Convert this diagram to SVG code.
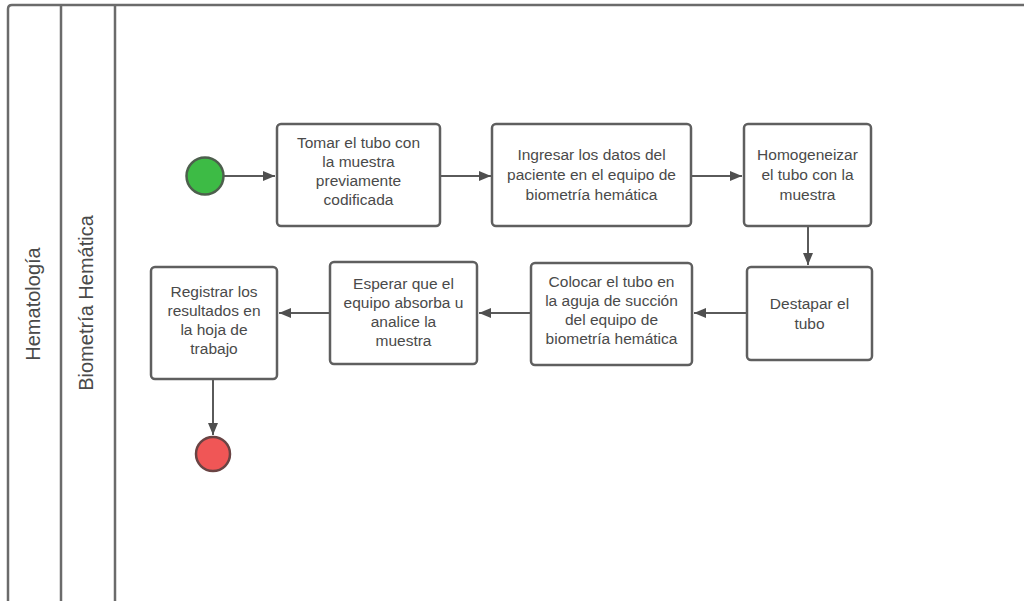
<svg xmlns="http://www.w3.org/2000/svg" width="1024" height="601" viewBox="0 0 1024 601">
  <defs>
    <style>
      .lane { fill: #ffffff; stroke: #6b6b6b; stroke-width: 2.5; }
      .box { fill: #ffffff; stroke: #5f5f5f; stroke-width: 2.5; }
      .txt { font-family: "Liberation Sans", Arial, sans-serif; font-size: 15.5px; fill: #4a4a4a; text-anchor: middle; }
      .lanetxt { font-family: "Liberation Sans", Arial, sans-serif; font-size: 20px; fill: #4a4a4a; text-anchor: middle; }
      .edge { fill: none; stroke: #5a5a5a; stroke-width: 2; }
    </style>
    <marker id="arrow" viewBox="0 0 12 10" refX="12" refY="5" markerWidth="12" markerHeight="10" markerUnits="userSpaceOnUse" orient="auto">
      <path d="M0,0 L12,5 L0,10 Z" fill="#4f4f4f"/>
    </marker>
  </defs>

  <rect width="1024" height="601" fill="#ffffff"/>

  <!-- Swimlane frame -->
  <g id="pool">
    <path class="lane" d="M8,603 L8,9 Q8,5 12,5 L1030,5"/>
    <line class="lane" x1="61" y1="5" x2="61" y2="603"/>
    <line class="lane" x1="115" y1="5" x2="115" y2="603"/>
    <text class="lanetxt" transform="translate(40,304) rotate(-90)">Hematología</text>
    <text class="lanetxt" transform="translate(93,303) rotate(-90)">Biometría Hemática</text>
  </g>

  <!-- Connectors -->
  <g id="connectors">
    <line class="edge" x1="224" y1="176" x2="275" y2="176" marker-end="url(#arrow)"/>
    <line class="edge" x1="440" y1="176" x2="491" y2="176" marker-end="url(#arrow)"/>
    <line class="edge" x1="692" y1="176" x2="742" y2="176" marker-end="url(#arrow)"/>
    <line class="edge" x1="808" y1="227" x2="808" y2="265" marker-end="url(#arrow)"/>
    <line class="edge" x1="746" y1="313" x2="694" y2="313" marker-end="url(#arrow)"/>
    <line class="edge" x1="531" y1="313" x2="479" y2="313" marker-end="url(#arrow)"/>
    <line class="edge" x1="330" y1="313" x2="279" y2="313" marker-end="url(#arrow)"/>
    <line class="edge" x1="213" y1="379" x2="213" y2="435" marker-end="url(#arrow)"/>
  </g>

  <!-- Start event -->
  <g id="start">
    <circle cx="205" cy="176" r="18.5" fill="#3dbb45" stroke="#4d5f4d" stroke-width="2.5"/>
  </g>

  <g id="tomar">
    <rect class="box" x="277" y="124" width="163" height="102" rx="4"/>
    <text class="txt" x="358.5" y="148">Tomar el tubo con</text>
    <text class="txt" x="358.5" y="167">la muestra</text>
    <text class="txt" x="358.5" y="186">previamente</text>
    <text class="txt" x="358.5" y="205">codificada</text>
  </g>

  <g id="ingresar">
    <rect class="box" x="492" y="124" width="199" height="102" rx="4"/>
    <text class="txt" x="591.5" y="160">Ingresar los datos del</text>
    <text class="txt" x="591.5" y="180">paciente en el equipo de</text>
    <text class="txt" x="591.5" y="200">biometría hemática</text>
  </g>

  <g id="homogeneizar">
    <rect class="box" x="744" y="124" width="127" height="102" rx="4"/>
    <text class="txt" x="807.5" y="160">Homogeneizar</text>
    <text class="txt" x="807.5" y="180">el tubo con la</text>
    <text class="txt" x="807.5" y="200">muestra</text>
  </g>

  <g id="destapar">
    <rect class="box" x="747" y="267" width="125" height="93" rx="4"/>
    <text class="txt" x="809.5" y="309">Destapar el</text>
    <text class="txt" x="809.5" y="329">tubo</text>
  </g>

  <g id="colocar">
    <rect class="box" x="531" y="263" width="161" height="102" rx="4"/>
    <text class="txt" x="611.5" y="287">Colocar el tubo en</text>
    <text class="txt" x="611.5" y="306">la aguja de succión</text>
    <text class="txt" x="611.5" y="325">del equipo de</text>
    <text class="txt" x="611.5" y="344">biometría hemática</text>
  </g>

  <g id="esperar">
    <rect class="box" x="330" y="262" width="147" height="102" rx="4"/>
    <text class="txt" x="403.5" y="289">Esperar que el</text>
    <text class="txt" x="403.5" y="308">equipo absorba u</text>
    <text class="txt" x="403.5" y="327">analice la</text>
    <text class="txt" x="403.5" y="346">muestra</text>
  </g>

  <g id="registrar">
    <rect class="box" x="151" y="267" width="126" height="112" rx="4"/>
    <text class="txt" x="214" y="297">Registrar los</text>
    <text class="txt" x="214" y="316">resultados en</text>
    <text class="txt" x="214" y="335">la hoja de</text>
    <text class="txt" x="214" y="354">trabajo</text>
  </g>

  <!-- End event -->
  <g id="end">
    <circle cx="213" cy="454" r="17" fill="#f05656" stroke="#6a4444" stroke-width="2.5"/>
  </g>
</svg>
